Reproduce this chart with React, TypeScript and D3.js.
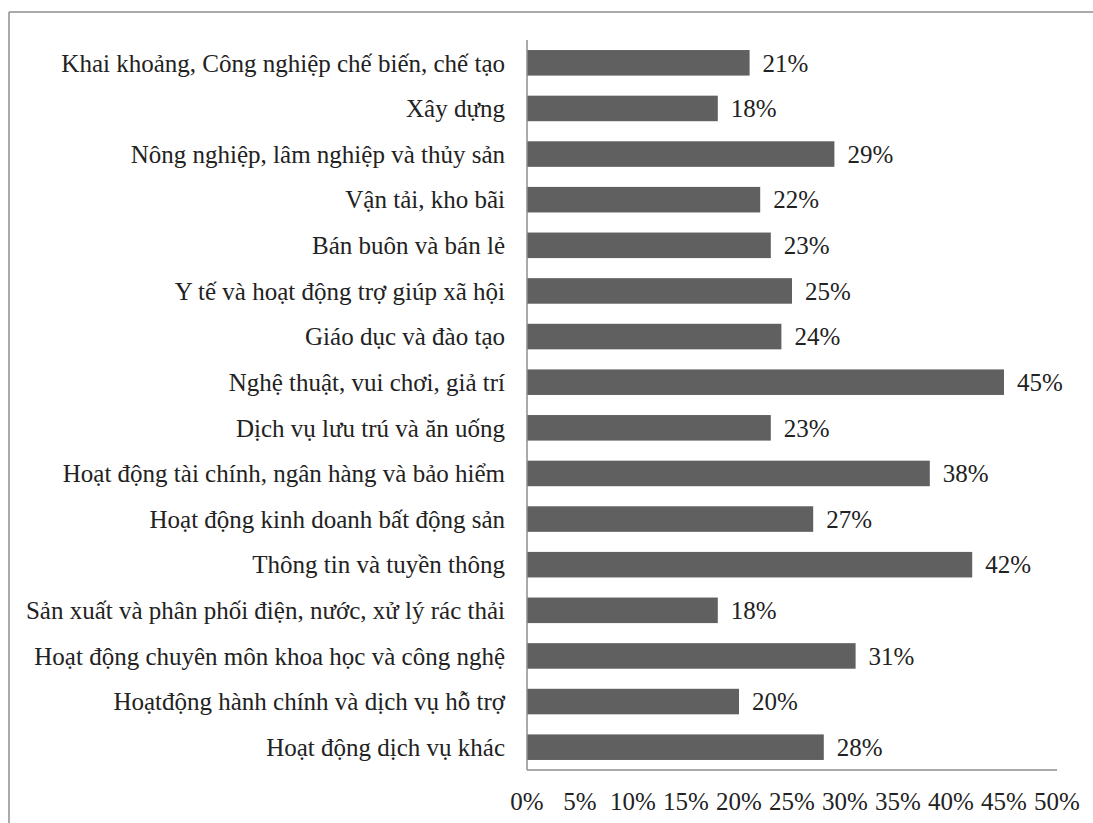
import React from "react";
import * as d3 from "d3";

const categories = [
  "Khai khoảng, Công nghiệp chế biến, chế tạo",
  "Xây dựng",
  "Nông nghiệp, lâm nghiệp và thủy sản",
  "Vận tải, kho bãi",
  "Bán buôn và bán lẻ",
  "Y tế và hoạt động trợ giúp xã hội",
  "Giáo dục và đào tạo",
  "Nghệ thuật, vui chơi, giả trí",
  "Dịch vụ lưu trú và ăn uống",
  "Hoạt động tài chính, ngân hàng và bảo hiểm",
  "Hoạt động kinh doanh bất động sản",
  "Thông tin và tuyền thông",
  "Sản xuất và phân phối điện, nước, xử lý rác thải",
  "Hoạt động chuyên môn khoa học và công nghệ",
  "Hoạtđộng hành chính và dịch vụ hỗ trợ",
  "Hoạt động dịch vụ khác",
];
const values = [21, 18, 29, 22, 23, 25, 24, 45, 23, 38, 27, 42, 18, 31, 20, 28];
const ticks = [0, 5, 10, 15, 20, 25, 30, 35, 40, 45, 50];

const W = 1093;
const H = 823;
const FONT = "'Liberation Serif', 'Times New Roman', serif";
const FS = 25;

export default function App() {
  const x = d3.scaleLinear().domain([0, 50]).range([527, 1057]);
  const y = d3
    .scaleBand<string>()
    .domain(categories)
    .range([40, 770])
    .paddingInner(0.44)
    .paddingOuter(0.22);

  return (
    <div style={{ position: "absolute", left: 0, top: 0, width: W, height: H, overflow: "hidden" }}>
      <svg width={W} height={H} style={{ display: "block", background: "#fff" }}>
        <line x1={9} x2={W} y1={12} y2={12} stroke="#8e8e8e" strokeWidth={1.5} />
        <line x1={9} x2={9} y1={12} y2={H} stroke="#8e8e8e" strokeWidth={1.5} />
        {categories.map((c, i) => (
          <g key={c}>
            <rect
              x={x(0)}
              y={y(c)!}
              width={x(values[i]) - x(0)}
              height={y.bandwidth()}
              fill="#606060"
            />
            <text
              x={x(values[i]) + 13}
              y={y(c)! + y.bandwidth() / 2}
              dy="0.35em"
              fontFamily={FONT}
              fontSize={FS}
              fill="#222"
            >
              {values[i]}%
            </text>
            <text
              x={505}
              y={y(c)! + y.bandwidth() / 2}
              dy="0.35em"
              textAnchor="end"
              fontFamily={FONT}
              fontSize={FS}
              fill="#222"
            >
              {c}
            </text>
          </g>
        ))}
        <line x1={x(0)} x2={x(0)} y1={40} y2={770} stroke="#8e8e8e" strokeWidth={1.5} />
        <line x1={x(0)} x2={x(50)} y1={770} y2={770} stroke="#8e8e8e" strokeWidth={1.5} />
        {ticks.map((t) => (
          <text
            key={t}
            x={x(t)}
            y={801}
            dy="0.35em"
            textAnchor="middle"
            fontFamily={FONT}
            fontSize={FS}
            fill="#222"
          >
            {t}%
          </text>
        ))}
      </svg>
    </div>
  );
}
